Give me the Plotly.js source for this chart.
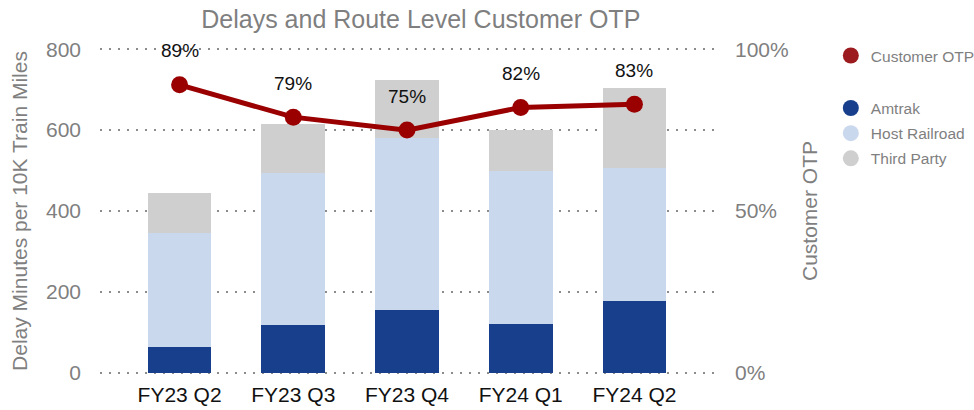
<!DOCTYPE html>
<html><head><meta charset="utf-8">
<script src="https://cdn.plot.ly/plotly-3.0.1.min.js"></script>
<style>html,body{margin:0;padding:0;background:#fff;}#chart{width:974px;height:410px;}</style>
</head><body><div id="chart"></div>
<script>
const categories = ["FY23 Q2", "FY23 Q3", "FY23 Q4", "FY24 Q1", "FY24 Q2"];
const amtrak = [63, 117, 156, 121, 177];
const hostRailroad = [283, 376, 425, 377, 330];
const thirdParty = [98, 122, 142, 103, 196];
const customerOTP = [0.89, 0.79, 0.75, 0.82, 0.83];
const otpLabels = ["89%", "79%", "75%", "82%", "83%"];

const FONT = "Liberation Sans, Arial, sans-serif";
const barColors = {amtrak: "#173f8c", host: "#cad8ee", third: "#cfcfcf"};
const lineColor = "#9a0000";

const traces = [
  {type: "bar", x: categories, y: amtrak, name: "Amtrak", marker: {color: barColors.amtrak}, showlegend: false},
  {type: "bar", x: categories, y: hostRailroad, name: "Host Railroad", marker: {color: barColors.host}, showlegend: false},
  {type: "bar", x: categories, y: thirdParty, name: "Third Party", marker: {color: barColors.third}, showlegend: false},
  {type: "scatter", mode: "lines+markers", x: categories, y: customerOTP, yaxis: "y2", name: "Customer OTP",
   line: {color: lineColor, width: 5}, marker: {color: lineColor, size: 17}, showlegend: false},
  // legend entries
  {type: "scatter", mode: "markers", x: [null], y: [null], yaxis: "y2", name: "Customer OTP", legend: "legend",
   marker: {color: "#9b1b1e", size: 22, symbol: "circle"}},
  {type: "scatter", mode: "markers", x: [null], y: [null], name: "Amtrak", legend: "legend2", legendgroup: "a1",
   marker: {color: barColors.amtrak, size: 22, symbol: "circle"}},
  {type: "scatter", mode: "markers", x: [null], y: [null], name: "Host Railroad", legend: "legend2", legendgroup: "a2",
   marker: {color: barColors.host, size: 22, symbol: "circle"}},
  {type: "scatter", mode: "markers", x: [null], y: [null], name: "Third Party", legend: "legend2", legendgroup: "a3",
   marker: {color: barColors.third, size: 22, symbol: "circle"}}
];

const annotations = categories.map((c, i) => ({
  x: c, y: customerOTP[i], xref: "x", yref: "y2", text: otpLabels[i], showarrow: false,
  yshift: 34, font: {family: FONT, size: 19, color: "#111"}
}));

const legendFont = {family: FONT, size: 15.5, color: "#7f7f7f"};

const layout = {
  width: 974, height: 410,
  margin: {l: 100, r: 260, t: 48, b: 36},
  paper_bgcolor: "#fff", plot_bgcolor: "#fff",
  font: {family: FONT, color: "#7f7f7f"},
  title: {text: "Delays and Route Level Customer OTP", x: 0.432, xanchor: "center", yref: "container", y: 0.975, yanchor: "top",
          font: {family: FONT, size: 25, color: "#7f7f7f"}},
  barmode: "stack", bargap: 0.44,
  xaxis: {range: [-0.7, 4.7], showgrid: false, zeroline: false, showline: false, ticks: "", automargin: false,
          ticklabelstandoff: 6, tickfont: {family: FONT, size: 21, color: "#111"}},
  yaxis: {range: [-3, 803], tickvals: [0, 200, 400, 600, 800], showgrid: true, gridcolor: "#8c8c8c", gridwidth: 1.5, griddash: "2px,7px",
          zeroline: false, showline: false, ticks: "", ticklabelstandoff: 18, automargin: false,
          tickfont: {family: FONT, size: 21, color: "#7f7f7f"},
          title: {text: "Delay Minutes per 10K Train Miles", standoff: 12, font: {family: FONT, size: 21, color: "#7f7f7f"}}},
  yaxis2: {range: [-0.00375, 1.00375], tickvals: [0, 0.5, 1], tickformat: ".0%", overlaying: "y", side: "right", showgrid: false,
           zeroline: false, showline: false, ticks: "", ticklabelstandoff: 20, automargin: false,
           tickfont: {family: FONT, size: 21, color: "#7f7f7f"},
           title: {text: "Customer OTP", standoff: 14, font: {family: FONT, size: 21, color: "#7f7f7f"}}},
  legend: {xref: "container", yref: "container", x: 0.853, xanchor: "left", y: 0.905, yanchor: "top",
           font: legendFont, itemsizing: "trace", bgcolor: "rgba(0,0,0,0)"},
  legend2: {xref: "container", yref: "container", x: 0.853, xanchor: "left", y: 0.777, yanchor: "top",
           traceorder: "grouped", tracegroupgap: 2,
           font: legendFont, itemsizing: "trace", bgcolor: "rgba(0,0,0,0)"},
  annotations: annotations,
  showlegend: true
};

Plotly.newPlot("chart", traces, layout, {displayModeBar: false, staticPlot: true});
</script></body></html>
